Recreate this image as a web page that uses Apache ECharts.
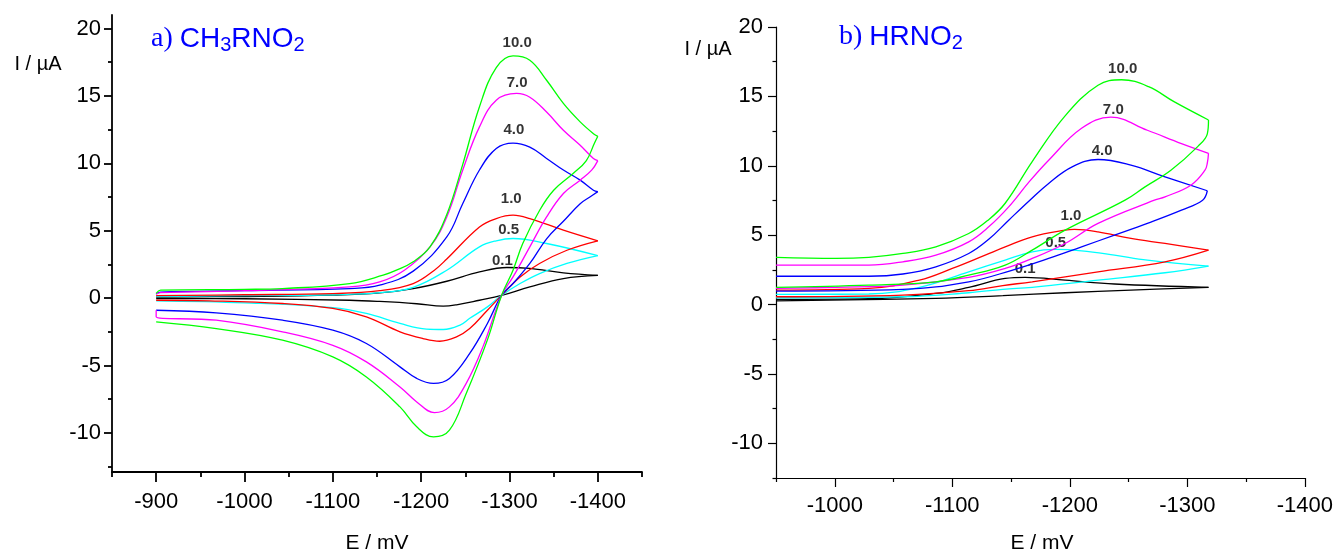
<!DOCTYPE html>
<html><head><meta charset="utf-8">
<script src="https://cdn.jsdelivr.net/npm/echarts@6/dist/echarts.min.js"></script>
<style>html,body{margin:0;padding:0;background:#fff}#c{width:1336px;height:559px}</style>
</head><body><div id="c"></div><script>
// ---- DATA: cyclic voltammograms, points [E / mV, I / µA] in scan order ----
const scanRates = ['0.1', '0.5', '1.0', '4.0', '7.0', '10.0'];

// Panel a) CH3RNO2
const a_01 = [[-900,0.08],[-1000,0.12],[-1100,0.22],[-1153,0.38],[-1191,0.7],[-1229,1.25],[-1266,1.94],[-1297,2.27],[-1323,2.2],[-1361,1.87],[-1400,1.68],
  [-1361,1.45],[-1323,0.83],[-1291,0.2],[-1266,-0.16],[-1240,-0.5],[-1225,-0.6],[-1195,-0.42],[-1153,-0.25],[-1119,-0.16],[-1000,-0.05],[-900,-0.03]];
const a_05 = [[-900,0.12],[-1000,0.18],[-1100,0.25],[-1153,0.4],[-1191,0.8],[-1229,2.07],[-1266,3.8],[-1285,4.25],[-1304,4.42],[-1342,4.05],[-1400,3.15],
  [-1365,2.57],[-1334,1.82],[-1312,1.08],[-1291,0.2],[-1275,-0.65],[-1255,-1.5],[-1244,-2.0],[-1225,-2.33],[-1206,-2.3],[-1176,-1.88],[-1138,-1.14],[-1100,-0.7],[-1000,-0.35],[-900,-0.2]];
const a_10 = [[-900,0.18],[-1000,0.25],[-1100,0.33],[-1153,0.55],[-1191,1.08],[-1215,2.07],[-1229,2.9],[-1266,5.28],[-1285,5.9],[-1304,6.15],[-1323,5.9],[-1361,5.04],[-1400,4.25],
  [-1365,3.55],[-1334,2.57],[-1312,1.57],[-1291,0.2],[-1275,-0.9],[-1255,-2.26],[-1240,-2.88],[-1221,-3.2],[-1202,-3.0],[-1176,-2.5],[-1138,-1.39],[-1100,-0.77],[-1043,-0.4],[-960,-0.2],[-900,-0.16]];
const a_40 = [[-900,0.3],[-905,0.45],[-1000,0.55],[-1119,0.71],[-1153,0.96],[-1191,2.0],[-1229,4.54],[-1247,7.0],[-1266,9.5],[-1285,11.1],[-1304,11.5],[-1323,11.2],[-1342,10.36],[-1361,9.5],[-1380,8.75],[-1395,8.0],[-1400,7.9],
  [-1391,7.5],[-1380,7.0],[-1361,5.7],[-1342,4.4],[-1323,2.57],[-1304,1.08],[-1291,0.2],[-1275,-1.88],[-1255,-4.1],[-1232,-5.96],[-1214,-6.33],[-1195,-5.96],[-1176,-5.1],[-1138,-3.37],[-1100,-2.38],[-1043,-1.64],[-968,-1.1],[-900,-0.9]];
const a_70 = [[-900,0.3],[-905,0.4],[-1000,0.55],[-1119,0.83],[-1153,1.2],[-1181,2.07],[-1210,3.8],[-1229,6.02],[-1247,9.49],[-1266,12.7],[-1285,14.68],[-1308,15.18],[-1323,14.9],[-1342,13.8],[-1361,12.45],[-1380,11.34],[-1395,10.36],[-1400,10.2],
  [-1393,9.49],[-1380,8.75],[-1361,7.76],[-1342,6.02],[-1323,3.8],[-1304,1.57],[-1291,0.2],[-1270,-3.6],[-1251,-6.33],[-1232,-8.07],[-1215,-8.5],[-1195,-7.7],[-1176,-6.59],[-1138,-4.73],[-1100,-3.5],[-1043,-2.5],[-968,-1.64],[-900,-1.39],[-900,-0.9]];
const a_100 = [[-900,0.35],[-905,0.59],[-1000,0.65],[-1043,0.71],[-1119,1.08],[-1157,1.7],[-1172,2.07],[-1191,2.7],[-1210,3.8],[-1229,6.2],[-1247,9.9],[-1266,14.2],[-1285,17.1],[-1304,17.97],[-1323,17.65],[-1342,16.16],[-1361,14.44],[-1380,13.07],[-1395,12.2],[-1400,12.0],
  [-1396,11.47],[-1387,10.2],[-1372,9.24],[-1350,8.0],[-1334,6.5],[-1315,4.05],[-1304,2.07],[-1291,0.2],[-1275,-3.1],[-1251,-7.08],[-1232,-9.8],[-1214,-10.3],[-1195,-9.55],[-1176,-8.07],[-1138,-5.85],[-1100,-4.36],[-1043,-3.12],[-968,-2.26],[-900,-1.76]];

// Panel b) HRNO2
const b_01 = [[-950,0.37],[-1029,0.42],[-1086,0.8],[-1114,1.24],[-1145,1.88],[-1162,1.96],[-1196,1.76],[-1238,1.48],[-1318,1.24],
  [-1252,1.04],[-1196,0.85],[-1143,0.64],[-1086,0.45],[-950,0.27]];
const b_05 = [[-950,0.73],[-1029,0.76],[-1072,1.24],[-1114,2.36],[-1145,3.2],[-1168,3.8],[-1188,3.97],[-1210,3.87],[-1238,3.56],[-1266,3.2],[-1318,2.77],
  [-1281,2.29],[-1224,1.76],[-1168,1.24],[-1143,1.1],[-1114,0.85],[-1058,0.56],[-950,0.49]];
const b_10 = [[-950,1.04],[-1029,1.16],[-1072,1.76],[-1100,2.6],[-1128,3.56],[-1145,4.15],[-1168,4.88],[-1196,5.36],[-1204,5.41],[-1224,5.24],[-1252,4.76],[-1281,4.4],[-1318,3.92],
  [-1281,3.08],[-1224,2.36],[-1168,1.64],[-1143,1.37],[-1114,1.0],[-1058,0.68],[-950,0.56]];
const b_40 = [[-950,2.04],[-1029,2.04],[-1058,2.2],[-1086,2.72],[-1114,3.68],[-1131,4.7],[-1148,6.08],[-1166,7.52],[-1182,8.73],[-1202,9.92],[-1224,10.45],[-1252,10.04],[-1281,9.2],[-1317,8.2],
  [-1313,7.52],[-1295,6.8],[-1266,5.85],[-1238,5.0],[-1210,4.16],[-1182,3.32],[-1150,2.45],[-1114,1.64],[-1058,1.09],[-950,0.97]];
const b_70 = [[-950,2.84],[-1029,2.84],[-1058,3.08],[-1086,3.56],[-1114,4.52],[-1131,5.6],[-1148,7.04],[-1165,8.8],[-1182,10.4],[-1210,12.7],[-1235,13.5],[-1266,12.56],[-1295,11.6],[-1318,10.9],
  [-1317,10.2],[-1315,9.68],[-1303,8.6],[-1281,7.76],[-1272,7.52],[-1224,5.85],[-1196,4.4],[-1168,3.32],[-1145,2.6],[-1114,1.96],[-1058,1.4],[-1001,1.24],[-950,1.16]];
const b_100 = [[-950,3.4],[-1001,3.32],[-1029,3.4],[-1058,3.68],[-1086,4.16],[-1114,5.12],[-1130,6.05],[-1145,7.3],[-1168,10.3],[-1196,13.6],[-1224,15.8],[-1244,16.2],[-1267,15.7],[-1289,14.6],[-1318,13.3],
  [-1317,12.3],[-1309,11.4],[-1286,9.68],[-1264,8.48],[-1247,7.52],[-1196,5.36],[-1168,3.92],[-1145,2.84],[-1114,2.12],[-1086,1.64],[-1029,1.4],[-950,1.24]];

// scan-rate annotation anchors [E, I]
const labelPosA = [[-1292,2.76],[-1299,5.04],[-1302,7.34],[-1305,12.46],[-1308.7,15.96],[-1308.7,18.9]];
const labelPosB = [[-1162,2.6],[-1188,4.45],[-1201,6.37],[-1227.5,11.07],[-1237,14.0],[-1245,17.0]];

// tick values
const xMajorA = [-900,-1000,-1100,-1200,-1300,-1400];
const xMinorA = [-850,-950,-1050,-1150,-1250,-1350,-1450];
const xMajorB = [-1000,-1100,-1200,-1300,-1400];
const xMinorB = [-950,-1050,-1150,-1250,-1350];
const yMajor = [-10,-5,0,5,10,15,20];
const yMinor = [-12.5,-7.5,-2.5,2.5,7.5,12.5,17.5];

// ---- CHART ----
const colors = ['#000000','#00ffff','#ff0000','#0000ff','#ff00ff','#00ff00'];
const FONT = '"Liberation Sans", Arial, sans-serif';
const chart = echarts.init(document.getElementById('c'), null, {renderer: 'canvas'});

function xAxes(gi, min, max, major, minor, majLen, minLen, margin, lw) {
  const base = {type: 'value', gridIndex: gi, min, max, inverse: true, position: 'bottom', splitLine: {show: false}};
  return [
    Object.assign({}, base, {
      axisLine: {show: true, onZero: false, lineStyle: {color: '#000', width: lw}},
      axisTick: {show: true, length: majLen, customValues: major, lineStyle: {color: '#000', width: lw}},
      axisLabel: {customValues: major, formatter: v => String(v), color: '#000', fontSize: 22, fontFamily: FONT, margin}
    }),
    Object.assign({}, base, {
      axisLine: {show: false, onZero: false},
      axisTick: {show: true, length: minLen, customValues: minor, lineStyle: {color: '#000', width: lw}},
      axisLabel: {show: false}
    })
  ];
}
function yAxes(gi, min, max, majLen, minLen, margin, lw) {
  const base = {type: 'value', gridIndex: gi, min, max, position: 'left', splitLine: {show: false}};
  return [
    Object.assign({}, base, {
      axisLine: {show: true, onZero: false, lineStyle: {color: '#000', width: lw}},
      axisTick: {show: true, length: majLen, customValues: yMajor, lineStyle: {color: '#000', width: lw}},
      axisLabel: {customValues: yMajor, formatter: v => String(v), color: '#000', fontSize: 22, fontFamily: FONT, margin}
    }),
    Object.assign({}, base, {
      axisLine: {show: false, onZero: false},
      axisTick: {show: true, length: minLen, customValues: yMinor, lineStyle: {color: '#000', width: lw}},
      axisLabel: {show: false}
    })
  ];
}

const dataA = [a_01, a_05, a_10, a_40, a_70, a_100];
const dataB = [b_01, b_05, b_10, b_40, b_70, b_100];
const series = [];
function addPanel(data, labels, xi, yi) {
  data.forEach((d, i) => {
    // split the loop at the switching potential so each branch is smoothed separately
    let k = 0;
    d.forEach((p, j) => { if (p[0] < d[k][0]) k = j; });
    [d.slice(0, k + 1), d.slice(k)].forEach(part => series.push({
      type: 'line', name: scanRates[i], xAxisIndex: xi, yAxisIndex: yi, data: part,
      showSymbol: false, smooth: 0.4, silent: true, clip: false,
      lineStyle: {color: colors[i], width: 1.3}
    }));
  });
  series.push({
    type: 'scatter', xAxisIndex: xi, yAxisIndex: yi, symbolSize: 1, silent: true,
    itemStyle: {color: 'rgba(0,0,0,0)'},
    data: labels.map((p, i) => ({value: p, name: scanRates[i]})),
    label: {show: true, position: 'inside', formatter: p => p.name, color: '#000',
      fontSize: 15, fontWeight: 'bold', fontFamily: FONT}
  });
}
addPanel(dataA, labelPosA, 0, 0);
addPanel(dataB, labelPosB, 2, 2);

const titleRich = {
  t: {fontFamily: '"Liberation Serif", "Times New Roman", serif', fontSize: 28, fill: '#0000ff', lineHeight: 32},
  b: {fontFamily: FONT, fontSize: 28, fill: '#0000ff', lineHeight: 32},
  s: {fontFamily: FONT, fontSize: 20, fill: '#0000ff', lineHeight: 21, verticalAlign: 'bottom'}
};

chart.setOption({
  animation: false,
  backgroundColor: '#fff',
  grid: [
    {left: 112, top: 15, width: 530, height: 457},
    {left: 776, top: 27, width: 531, height: 451}
  ],
  xAxis: [].concat(
    xAxes(0, -1450, -850, xMajorA, xMinorA, 10, 5, 19, 1.8),
    xAxes(1, -1400, -950, xMajorB, xMinorB, 9, 4, 17, 1.2)
  ),
  yAxis: [].concat(
    yAxes(0, -12.9, 21, 8, 4, 11, 1.8),
    yAxes(1, -12.5, 20, 8, 3.5, 13, 1.2)
  ),
  series,
  graphic: [
    {type: 'text', left: 151, top: 25, style: {text: '{t|a) }{b|CH}{s|3}{b|RNO}{s|2}', rich: titleRich, fill: '#0000ff'}},
    {type: 'text', left: 839, top: 23, style: {text: '{t|b) }{b|HRNO}{s|2}', rich: titleRich, fill: '#0000ff'}},
    {type: 'text', x: 38, y: 64, style: {text: 'I / µA', font: '20px ' + FONT, fill: '#000', textAlign: 'center', textVerticalAlign: 'middle'}},
    {type: 'text', x: 708, y: 49, style: {text: 'I / µA', font: '20px ' + FONT, fill: '#000', textAlign: 'center', textVerticalAlign: 'middle'}},
    {type: 'text', x: 377, y: 543, style: {text: 'E / mV', font: '21px ' + FONT, fill: '#000', textAlign: 'center', textVerticalAlign: 'middle'}},
    {type: 'text', x: 1042, y: 543, style: {text: 'E / mV', font: '21px ' + FONT, fill: '#000', textAlign: 'center', textVerticalAlign: 'middle'}}
  ]
});
</script></body></html>
